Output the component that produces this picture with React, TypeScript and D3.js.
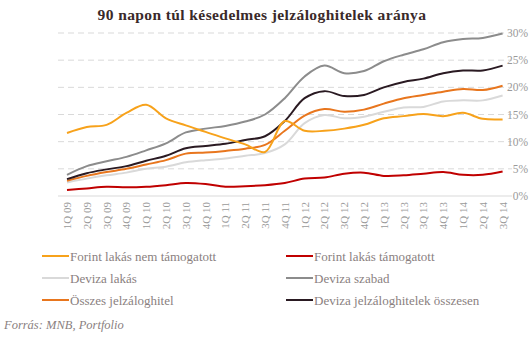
import React from "react";
import * as d3 from "d3";

const quarters = ["1Q 09","2Q 09","3Q 09","4Q 09","1Q 10","2Q 10","3Q 10","4Q 10","1Q 11","2Q 11","3Q 11","4Q 11","1Q 12","2Q 12","3Q 12","4Q 12","1Q 13","2Q 13","3Q 13","4Q 13","1Q 14","2Q 14","3Q 14"];

const forintNemTamogatott = [11.6,12.7,13.1,15.3,16.8,14.3,13.0,11.8,10.6,9.5,8.1,13.8,12.0,12.0,12.4,13.1,14.3,14.7,15.1,14.7,15.3,14.2,14.1];
const forintTamogatott = [1.1,1.4,1.7,1.6,1.7,2.0,2.4,2.2,1.7,1.8,2.0,2.4,3.2,3.4,4.1,4.3,3.7,3.8,4.1,4.4,3.9,3.9,4.5];
const devizaLakas = [2.5,3.2,3.8,4.3,5.0,5.4,6.2,6.6,6.9,7.4,7.9,9.5,13.4,14.9,14.3,14.6,15.5,16.3,16.4,17.4,17.6,17.6,18.5];
const devizaSzabad = [3.9,5.5,6.4,7.2,8.4,9.7,11.7,12.4,12.9,13.7,15.0,18.0,22.0,24.0,22.6,23.0,24.8,26.0,27.0,28.3,28.9,29.1,29.9];
const osszes = [2.8,3.7,4.4,5.0,5.8,6.6,7.8,8.0,8.3,8.7,9.4,12.0,14.8,16.0,15.5,15.9,17.0,18.0,18.6,19.2,19.7,19.5,20.3];
const devizaOsszesen = [3.1,4.2,4.9,5.5,6.5,7.4,8.8,9.2,9.6,10.3,11.0,13.8,18.0,19.3,18.4,18.6,20.0,21.0,21.6,22.6,23.1,23.1,24.0];

const yTicks = [0,5,10,15,20,25,30];

const seriesNames = ["Forint lakás nem támogatott","Forint lakás támogatott","Deviza lakás","Deviza szabad","Összes jelzáloghitel","Deviza jelzáloghitelek összesen"];
const seriesColors = ["#F7A21B","#C00000","#D9D9D9","#8C8C8C","#E8761E","#2A1A22"];
const seriesData = [forintNemTamogatott, forintTamogatott, devizaLakas, devizaSzabad, osszes, devizaOsszesen];
// draw order (back to front)
const drawOrder = [2, 3, 1, 4, 5, 0];

const W = 531, H = 342;
const x = d3.scalePoint<string>().domain(quarters).range([67, 502.6]);
const y = d3.scaleLinear().domain([0, 30]).range([196, 33]);

const serif = "'Liberation Serif', 'DejaVu Serif', serif";

export default function App() {
  const line = d3.line<number>()
    .x((_, i) => x(quarters[i]) as number)
    .y((d) => y(d))
    .curve(d3.curveCatmullRom.alpha(0.5));

  return (
    <svg width={W} height={H} style={{ position: "absolute", left: 0, top: 0, background: "#fff" }} fontFamily={serif}>
      <text x={262} y={20} textAnchor="middle" fontSize={15.5} fontWeight="bold" fill="#3a2a2a" letterSpacing={0.4}>
        90 napon túl késedelmes  jelzáloghitelek aránya
      </text>
      {yTicks.map((t) => (
        <g key={t}>
          <line x1={58} x2={512} y1={y(t)} y2={y(t)} stroke="#D9D9D9" strokeWidth={1}
            strokeDasharray={t === 0 ? undefined : "6,4"} />
          <text x={528} y={y(t) + 4} textAnchor="end" fontSize={11.5} fill="#9a9a9a">{t}%</text>
        </g>
      ))}
      {quarters.map((q) => (
        <text key={q} transform={`translate(${(x(q) as number) + 4},202) rotate(-90)`} textAnchor="end"
          fontSize={11} fill="#9a9a9a">{q}</text>
      ))}
      {drawOrder.map((si) => (
        <path key={si} d={line(seriesData[si]) || ""} fill="none" stroke={seriesColors[si]} strokeWidth={2} />
      ))}
      {seriesNames.map((name, i) => {
        const col = i % 2;
        const row = Math.floor(i / 2);
        const lx = col === 0 ? 42 : 286;
        const ly = 256 + row * 22;
        return (
          <g key={name}>
            <line x1={lx} x2={lx + 27} y1={ly} y2={ly} stroke={seriesColors[i]} strokeWidth={2} />
            <text x={lx + 28} y={ly + 4.5} fontSize={13} fill="#8a7f7f">{name}</text>
          </g>
        );
      })}
      <text x={4} y={329} fontSize={12.5} fontStyle="italic" fill="#8a7f7f">Forrás: MNB, Portfolio</text>
    </svg>
  );
}
